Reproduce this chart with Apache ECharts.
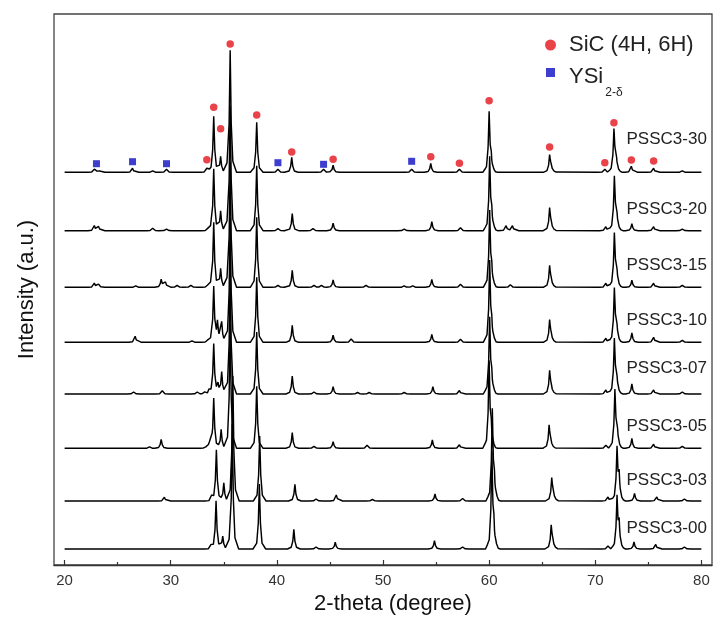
<!DOCTYPE html>
<html><head><meta charset="utf-8">
<script src="https://cdn.jsdelivr.net/npm/echarts@6/dist/echarts.min.js"></script>
<style>html,body{margin:0;padding:0;background:#fff}#c{width:724px;height:622px}</style>
</head><body><div id="c"></div>
<script>
// ---------- data ----------
const samples = ['PSSC3-00','PSSC3-03','PSSC3-05','PSSC3-07','PSSC3-10','PSSC3-15','PSSC3-20','PSSC3-30'];
const offsets = [16, 64, 116.7, 171, 222.7, 277.7, 334.3, 392.7];
const xTicks = [20, 30, 40, 50, 60, 70, 80];
const xMinorTicks = [25, 35, 45, 55, 65, 75];

// peak lists: [2-theta, intensity above baseline]
const peaks00 = [[33.8,3],[34.27,48],[34.9,13],[35.8,125],[38.35,65],[41.6,19.7],[43.7,2],[45.5,6.7],[54.85,8.3],[57.5,2],[60.26,95],[60.45,15],[65.85,21.7],[66.0,8],[71.2,3],[72.05,50],[72.25,22],[73.65,7],[75.7,4.5],[78.4,2]];
const peaks03 = [[29.4,3.7],[33.85,4],[34.3,51],[35.0,18.3],[35.85,125],[38.38,65],[41.7,16.7],[43.7,2],[45.6,6],[49.0,1.5],[54.9,7],[57.5,2.5],[60.3,90],[60.5,14],[65.9,21],[66.05,8],[71.2,4],[72.05,51],[72.25,22],[73.7,7.7],[75.8,4],[78.4,2]];
const peaks05 = [[28.0,1.5],[29.1,9],[33.4,3],[33.65,4],[34.05,50],[34.75,19],[35.6,125],[38.1,62],[41.45,15.6],[43.5,2],[45.3,6.6],[48.5,3],[54.65,8.3],[57.2,3.5],[60.0,85],[60.2,14],[65.65,21],[65.8,8],[71.0,3],[71.85,55],[72.05,22],[73.45,10],[75.5,4],[78.2,2]];
const peaks07 = [[26.5,2],[29.2,3.3],[32.5,2],[33.2,2],[33.6,3],[34.05,50],[34.45,8],[34.8,22],[35.6,125],[38.1,62],[41.45,18],[43.5,2],[45.3,7.3],[47.6,1.5],[48.7,1.5],[52.0,1.5],[54.7,7.3],[57.2,3.5],[60.05,75],[60.25,12],[65.7,21.7],[65.85,7],[71.0,4],[71.8,52],[72.0,20],[73.45,10],[75.5,4],[78.2,2]];
const peaks10 = [[26.65,6],[32.0,1.5],[33.5,3],[34.05,55],[34.4,18],[34.8,20],[35.6,125],[38.1,65],[41.45,17],[45.3,7],[47.0,3.3],[54.6,8],[57.3,3],[60.05,80],[60.25,12],[65.7,20.6],[65.85,7],[71.0,4],[71.8,51],[72.0,20],[73.45,9.5],[75.5,5],[78.2,2]];
const peaks15 = [[22.8,4],[23.2,3],[26.7,1.5],[29.1,8],[29.5,5],[30.6,2],[31.9,2],[33.5,3],[34.05,65],[34.7,19],[35.6,125],[38.1,70],[40.1,2],[41.45,17],[43.5,2],[44.2,2],[45.3,7.5],[48.4,2],[52.0,1.5],[52.8,1.5],[54.6,8],[57.3,3],[60.05,75],[60.25,12],[62.0,2.5],[65.7,20],[65.85,7],[71.0,4],[71.8,51],[72.0,20],[73.45,7],[75.5,4],[78.2,2]];
const peaks20 = [[22.8,5],[23.2,4],[28.3,2.5],[29.6,1.5],[33.5,3],[34.05,62],[34.7,20],[35.6,125],[38.1,65],[40.1,2],[41.45,17],[43.4,2],[45.3,7.5],[52.0,1.5],[54.6,9],[57.3,3],[60.05,72],[60.25,12],[61.6,5],[62.2,5],[65.7,21],[65.85,7],[71.0,4],[71.8,51],[72.0,20],[73.45,7],[75.5,4],[78.2,1.5]];
const peaks30 = [[22.8,3],[23.2,3],[26.4,4],[28.3,1.5],[29.6,3],[33.4,4],[34.05,56],[34.7,16],[35.6,122],[38.1,50],[40.1,3],[41.4,15],[44.4,3],[45.3,7],[52.7,3],[54.5,9],[57.2,3],[60.0,59],[60.2,10],[65.7,16],[65.85,6],[70.9,3],[71.76,40],[71.95,18],[73.4,6],[75.5,4],[78.2,1.5]];
const peakLists = [peaks00, peaks03, peaks05, peaks07, peaks10, peaks15, peaks20, peaks30];

// phase markers [2-theta, intensity]
const sicName = 'SiC (4H, 6H)';
const ysiName = 'YSi2-δ';
const sicMarks = [[33.4,405.3],[34.05,457.7],[34.7,436.3],[35.6,521],[38.1,450],[41.4,413],[45.3,405.7],[54.5,408.3],[57.2,401.7],[60.0,464.3],[65.7,418],[70.9,402.3],[71.76,442.3],[73.4,405],[75.5,404]];
const ysiMarks = [[23.0,401.3],[26.4,403.3],[29.6,401.3],[40.1,402.3],[44.4,400.7],[52.7,403.7]];

// ---------- layout / style ----------
const FONT = '"Liberation Sans", Arial, sans-serif';
const RED = '#e3141c', BLUE = '#0d0dc4';
const labelRise = [20.7, 21, 21.6, 25.3, 21.6, 21.6, 21.4, 33];
const profile = [[-0.6,0],[-0.25,0.09],[-0.1,0.4],[0,1],[0.1,0.4],[0.25,0.09],[0.6,0]];

function buildTrace(peaks, offset){
  const xs = new Set([20, 80]);
  peaks.forEach(([p]) => profile.forEach(([dx]) => xs.add(+(p + dx).toFixed(3))));
  const sorted = [...xs].filter(x => x >= 20 && x <= 80).sort((a, b) => a - b);
  return sorted.map(x => {
    let y = 0;
    peaks.forEach(([p, h]) => {
      const d = x - p;
      if (d <= profile[0][0] || d >= profile[profile.length-1][0]) return;
      for (let i = 0; i < profile.length - 1; i++) {
        const [x0, y0] = profile[i], [x1, y1] = profile[i+1];
        if (d >= x0 && d <= x1) { y += h * (y0 + (y1 - y0) * (d - x0) / (x1 - x0)); break; }
      }
    });
    return [x, offset + y];
  });
}

const lineSeries = samples.map((name, i) => ({
  name, type: 'line', xAxisIndex: 0, yAxisIndex: 0,
  data: buildTrace(peakLists[i], offsets[i]),
  showSymbol: false, symbol: 'none', silent: true, z: 2,
  lineStyle: { color: '#000', width: 1.45 },
  markPoint: {
    symbol: 'circle', symbolSize: 1, itemStyle: { color: 'rgba(0,0,0,0)' }, silent: true,
    label: { show: true, position: 'right', distance: 0, formatter: name, fontSize: 17, color: '#222', fontFamily: FONT },
    data: [{ coord: [72.9, offsets[i] + labelRise[i]] }]
  }
}));

const chart = echarts.init(document.getElementById('c'), null, { renderer: 'canvas' });
chart.setOption({
  animation: false,
  backgroundColor: '#fff',
  textStyle: { fontFamily: FONT },
  grid: { left: 54, right: 12, top: 14, bottom: 57, show: true, borderColor: '#444', borderWidth: 1.3, backgroundColor: 'transparent' },
  legend: [
    { data: [{ name: sicName, icon: 'circle', itemStyle: { color: RED } }], left: 545, top: 34, itemWidth: 11, itemHeight: 11, padding: 0,
      selectedMode: false,
      formatter: n => '{n|' + n + '}',
      textStyle: { rich: { n: { fontSize: 22, color: '#222', fontFamily: FONT, padding: [0, 0, 0, 8] } } } },
    { data: [{ name: ysiName, icon: 'rect', itemStyle: { color: BLUE } }], left: 546, top: 66, itemWidth: 9, itemHeight: 9, padding: 0,
      selectedMode: false,
      formatter: () => '{n|YSi}{s|2-δ}',
      textStyle: { padding: [11, 0, 0, 0], rich: {
        n: { fontSize: 22, color: '#222', fontFamily: FONT, lineHeight: 24, verticalAlign: 'top', padding: [0, 0, 0, 9] },
        s: { fontSize: 12, color: '#222', fontFamily: FONT, lineHeight: 12, verticalAlign: 'top', padding: [21, 0, 0, 2] } } } }
  ],
  xAxis: [{
    type: 'value', min: 19, max: 81,
    axisLine: { show: true, onZero: false, lineStyle: { color: '#333', width: 1.3 } },
    axisTick: { show: true, inside: true, length: 5, customValues: xTicks, lineStyle: { color: '#333', width: 1.2 } },
    axisLabel: { customValues: xTicks, fontSize: 15, color: '#333', margin: 8, fontFamily: FONT },
    splitLine: { show: false },
    name: '2-theta (degree)', nameLocation: 'middle', nameGap: 26,
    nameTextStyle: { fontSize: 22, color: '#111', fontFamily: FONT, padding: [0, 0, 0, 20] }
  }, {
    type: 'value', min: 19, max: 81, position: 'bottom', gridIndex: 0,
    axisLine: { show: false, onZero: false },
    axisTick: { show: true, inside: true, length: 3, customValues: xMinorTicks, lineStyle: { color: '#333', width: 1.2 } },
    axisLabel: { show: false }, splitLine: { show: false }
  }],
  yAxis: {
    type: 'value', min: 0, max: 551,
    axisLine: { show: false }, axisTick: { show: false }, axisLabel: { show: false }, splitLine: { show: false },
    name: 'Intensity (a.u.)', nameLocation: 'middle', nameGap: 16,
    nameTextStyle: { fontSize: 22, color: '#111', fontFamily: FONT }
  },
  series: [
    ...lineSeries,
    { name: sicName, type: 'scatter', data: sicMarks, symbol: 'circle', symbolSize: 7.5, z: 5,
      itemStyle: { color: RED } },
    { name: ysiName, type: 'scatter', data: ysiMarks, symbol: 'rect', symbolSize: 7, z: 5,
      itemStyle: { color: BLUE } }
  ]
});
</script></body></html>
